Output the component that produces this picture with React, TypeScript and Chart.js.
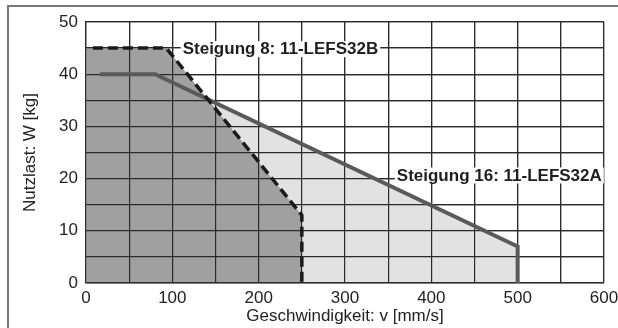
import React, { useEffect, useRef } from "react";
import { Chart, registerables } from "chart.js";

Chart.register(...registerables);

// Steigung 8: 11-LEFS32B (dashed)
const lead8X = [8, 93, 250, 250];
const lead8Y = [45, 45, 13, 0];
// Steigung 16: 11-LEFS32A (solid)
const lead16X = [16, 80, 500, 500];
const lead16Y = [40, 40, 7, 0];
// Filled areas start at v = 0
const fill8X = [0, 93, 250, 250];
const fill8Y = [45, 45, 13, 0];
const fill16X = [0, 80, 500, 500];
const fill16Y = [40, 40, 7, 0];

const xTicks = [0, 100, 200, 300, 400, 500, 600];
const yTicks = [0, 10, 20, 30, 40, 50];

const labelTexts = ["Steigung 8: 11-LEFS32B", "Steigung 16: 11-LEFS32A"];
const labelAnchorX = [112, 360];
const labelAnchorY = [44.8, 20.6];

const pts = (xs: number[], ys: number[]) => xs.map((x, i) => ({ x, y: ys[i] }));

const FONT = "'Liberation Sans', Arial, Helvetica, sans-serif";

export default function App() {
  const ref = useRef<HTMLCanvasElement>(null);
  useEffect(() => {
    if (!ref.current) return;
    const gridOnTop = {
      id: "gridOnTop",
      afterDatasetDraw(chart: any, args: any) {
        if (args.index === 2) {
          chart.scales.x.drawGrid(chart.chartArea);
          chart.scales.y.drawGrid(chart.chartArea);
        }
      },
    };
    const labels = {
      id: "labels",
      afterDatasetsDraw(chart: any) {
        const ctx = chart.ctx;
        const xs = chart.scales.x;
        const ys = chart.scales.y;
        ctx.save();
        ctx.font = "bold 17px " + FONT;
        ctx.textBaseline = "middle";
        ctx.textAlign = "left";
        labelTexts.forEach((t, i) => {
          const px = xs.getPixelForValue(labelAnchorX[i]);
          const py = ys.getPixelForValue(labelAnchorY[i]);
          const w = ctx.measureText(t).width;
          ctx.fillStyle = "#ffffff";
          ctx.fillRect(px - 2, py - 8, w + 4, 16);
          ctx.fillStyle = "#1e1e1e";
          ctx.fillText(t, px, py + 0.5);
        });
        ctx.restore();
      },
    };
    const chart = new Chart(ref.current, {
      type: "line",
      data: {
        datasets: [
          {
            data: pts(lead8X, lead8Y),
            borderColor: "#1a1a1a",
            borderWidth: 3.5,
            borderDash: [10, 5],
            pointRadius: 0,
            fill: false,
            tension: 0,
          },
          {
            data: pts(lead16X, lead16Y),
            borderColor: "#5a5a5a",
            borderWidth: 4,
            pointRadius: 0,
            fill: false,
            tension: 0,
          },
          {
            data: pts(fill8X, fill8Y),
            borderWidth: 0,
            borderColor: "rgba(0,0,0,0)",
            backgroundColor: "#a0a0a0",
            pointRadius: 0,
            fill: "origin",
            tension: 0,
          },
          {
            data: pts(fill16X, fill16Y),
            borderWidth: 0,
            borderColor: "rgba(0,0,0,0)",
            backgroundColor: "#e2e2e2",
            pointRadius: 0,
            fill: "origin",
            tension: 0,
          },
        ],
      },
      options: {
        animation: false,
        responsive: false,
        events: [],
        layout: { padding: { top: 22, right: 14, left: 0, bottom: 0 } },
        plugins: { legend: { display: false }, tooltip: { enabled: false } },
        scales: {
          x: {
            type: "linear",
            min: 0,
            max: 600,
            afterFit: (s: any) => {
              s.height = 45;
              s.paddingLeft = 0;
              s.paddingRight = 0;
            },
            grid: { color: "#2a2a2a", lineWidth: 1.2, drawTicks: false },
            border: { color: "#2a2a2a", width: 1.2 },
            ticks: {
              stepSize: 50,
              autoSkip: false,
              maxRotation: 0,
              padding: 5,
              color: "#222",
              font: { family: FONT, size: 17 },
              callback: (v: any) => (xTicks.includes(Number(v)) ? String(v) : ""),
            },
            title: {
              display: true,
              text: "Geschwindigkeit: v [mm/s]",
              color: "#222",
              font: { family: FONT, size: 17 },
              padding: { top: 0, bottom: 1 },
            },
          },
          y: {
            min: 0,
            max: 50,
            afterFit: (s: any) => {
              s.width = 86;
              s.paddingTop = 0;
              s.paddingBottom = 0;
            },
            grid: { color: "#2a2a2a", lineWidth: 1.2, drawTicks: false },
            border: { color: "#2a2a2a", width: 1.2 },
            ticks: {
              stepSize: 5,
              autoSkip: false,
              padding: 8,
              color: "#222",
              font: { family: FONT, size: 17 },
              callback: (v: any) => (yTicks.includes(Number(v)) ? String(v) : ""),
            },
            title: {
              display: true,
              text: "Nutzlast: W [kg]",
              color: "#222",
              font: { family: FONT, size: 17 },
              padding: { top: 20, bottom: 0 },
            },
          },
        },
      },
      plugins: [gridOnTop, labels],
    });
    return () => chart.destroy();
  }, []);
  return (
    <div>
      <div
        style={{
          position: "fixed",
          left: 7,
          top: 5,
          width: 611,
          height: 323,
          borderTop: "2px solid #777",
          borderLeft: "2px solid #777",
          boxSizing: "border-box",
          pointerEvents: "none",
        }}
      />
      <canvas
        ref={ref}
        width={618}
        height={328}
        style={{ position: "fixed", left: 0, top: 0, width: 618, height: 328 }}
      />
    </div>
  );
}
